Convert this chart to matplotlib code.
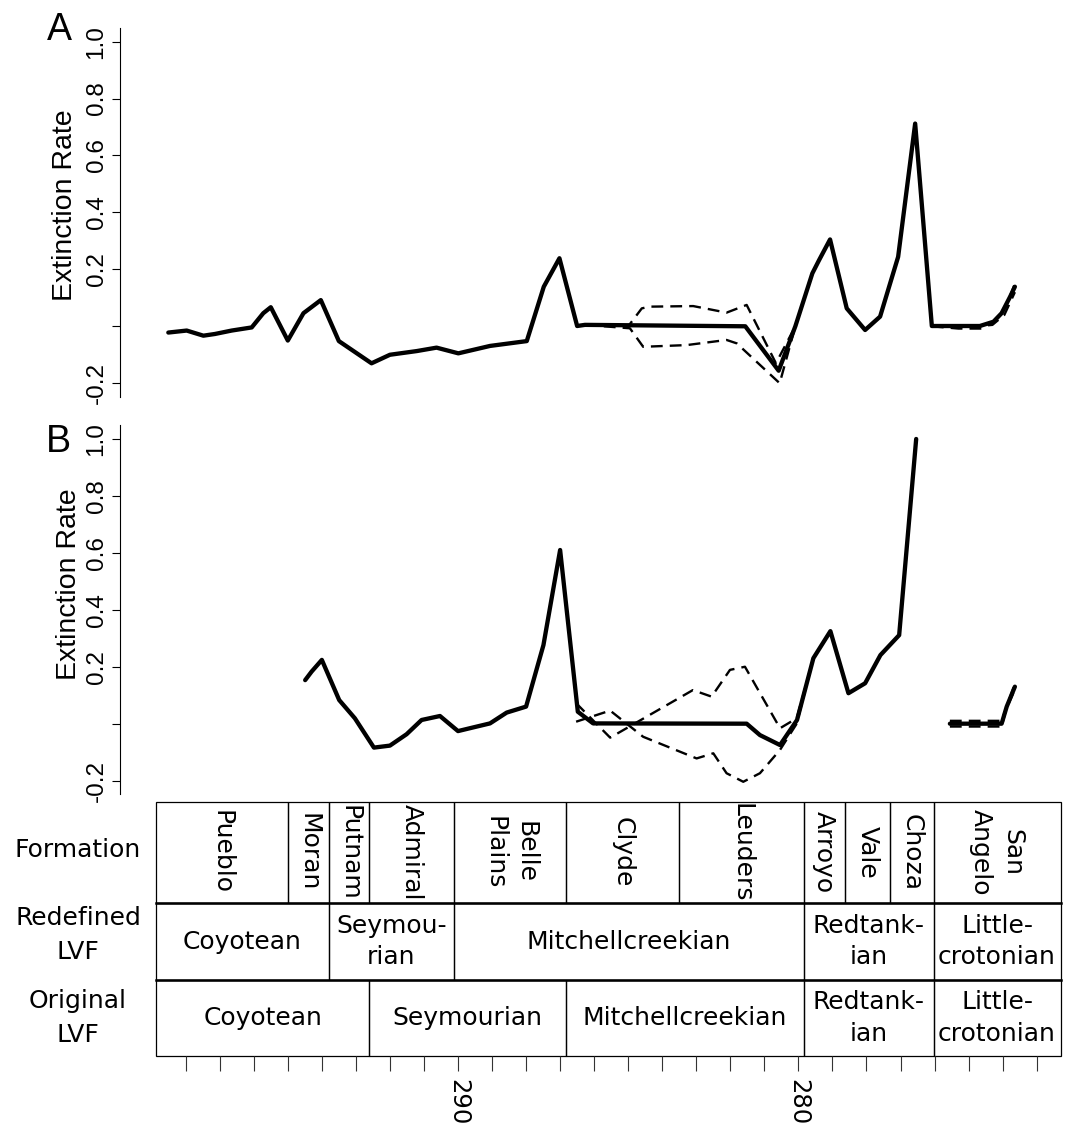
import numpy as np
import matplotlib
matplotlib.use("Agg")
import matplotlib.pyplot as plt
from matplotlib.patches import Rectangle

# ---------------- data ----------------
nan = np.nan
# Panel A: extinction rate (solid) and two alternative estimates (dashed)
ages_a = [298.51, 297.97, 297.48, 297.14, 296.65, 296.06, 295.72, 295.50, 295.00, 294.54,
          294.03, 293.50, 292.54, 292.00, 291.21, 290.63, 289.99, 289.06, 287.98, 287.48,
          287.02, 286.50, 286.27, 281.56, 280.58, 280.09, 279.59, 279.39, 279.07, 278.58,
          278.04, 277.60, 277.07, 276.57, 276.08, 274.67, 274.27, 274.03, 273.78, 273.64]
rate_a = [-0.022, -0.015, -0.033, -0.027, -0.015, -0.004, 0.046, 0.067, -0.050, 0.046,
          0.092, -0.052, -0.130, -0.100, -0.087, -0.075, -0.095, -0.069, -0.052, 0.139,
          0.239, 0.001, 0.005, 0.000, -0.156, 0.000, 0.186, 0.233, 0.305, 0.063,
          -0.013, 0.034, 0.244, 0.712, 0.001, 0.001, 0.016, 0.046, 0.104, 0.139]
ages_a_alt1 = [286.27, 285.00, 284.60, 284.36, 283.09, 282.11, 281.52, 280.66, 280.09, nan,
               276.08, 275.30, 274.60, 274.20, 273.90, 273.64]
rate_a_alt1 = [0.005, 0.000, 0.063, 0.069, 0.071, 0.048, 0.075, -0.130, 0.000, nan,
               0.000, -0.008, -0.008, 0.020, 0.070, 0.150]
ages_a_alt2 = [286.27, 284.95, 284.56, 283.28, 282.11, 281.81, 280.55, 280.09, nan,
               276.08, 275.00, 274.30, 273.95, 273.64]
rate_a_alt2 = [0.005, -0.007, -0.072, -0.066, -0.048, -0.060, -0.200, 0.000, nan,
               0.000, -0.003, 0.005, 0.040, 0.120]

# Panel B
ages_b = [294.49, 294.30, 294.00, 293.49, 293.03, 292.47, 292.00, 291.51, 291.07, 290.53,
          290.00, 289.55, 289.06, 288.57, 288.00, 287.49, 287.00, 286.48, 286.03, 281.52,
          281.13, 280.54, 280.04, 279.56, 279.06, 278.53, 278.04, 277.59, 277.04, 276.54,
          nan, 275.55, 274.03, 273.88, 273.64]
rate_b = [0.153, 0.183, 0.224, 0.083, 0.019, -0.084, -0.077, -0.037, 0.013, 0.027,
          -0.026, -0.013, 0.001, 0.039, 0.060, 0.276, 0.610, 0.042, 0.001, 0.000,
          -0.040, -0.075, 0.013, 0.230, 0.325, 0.107, 0.142, 0.241, 0.311, 1.000,
          nan, 0.000, 0.000, 0.060, 0.130]
ages_b_alt1 = [286.53, 285.53, 283.10, 282.55, 282.01, 281.57, 280.54, 280.05, 279.56, nan,
               275.55, 274.03, 273.64]
rate_b_alt1 = [0.072, -0.049, 0.118, 0.095, 0.189, 0.200, -0.016, 0.019, 0.230, nan,
               0.010, 0.010, 0.140]
ages_b_alt2 = [286.53, 285.53, 284.56, 282.99, 282.50, 282.11, 281.62, 281.13, 280.54,
               280.05, 279.56, nan, 275.55, 274.03, 273.90, 273.64]
rate_b_alt2 = [0.007, 0.046, -0.046, -0.122, -0.104, -0.174, -0.204, -0.174, -0.092,
               0.000, 0.230, nan, -0.010, -0.010, 0.050, 0.120]

# Stratigraphic table (boundaries in Ma)
formation_bounds = [298.88, 295.0, 293.79, 292.6, 290.12, 286.82, 283.51, 279.84, 278.64,
                    277.31, 276.03, 272.3]
formation_names = ["Pueblo", "Moran", "Putnam", "Admiral", "Belle\nPlains", "Clyde",
                   "Leuders", "Arroyo", "Vale", "Choza", "San\nAngelo"]
redefined_bounds = [298.88, 293.79, 290.12, 279.84, 276.03, 272.3]
redefined_names = ["Coyotean", "Seymou-\nrian", "Mitchellcreekian", "Redtank-\nian",
                   "Little-\ncrotonian"]
original_bounds = [298.88, 292.6, 286.82, 279.84, 276.03, 272.3]
original_names = ["Coyotean", "Seymourian", "Mitchellcreekian", "Redtank-\nian",
                  "Little-\ncrotonian"]
row_labels = ["Formation", "Redefined\nLVF", "Original\nLVF"]

y_ticks = [-0.2, 0.0, 0.2, 0.4, 0.6, 0.8, 1.0]
y_ticklabels = ["-0.2", "", "0.2", "0.4", "0.6", "0.8", "1.0"]
x_ticks = list(range(273, 299))
x_labelled = {290: "290", 280: "280"}

# ---------------- layout ----------------
W, H = 1070, 1126
fig = plt.figure(figsize=(W / 100, H / 100), dpi=100)

PX_290, PX_PER_MYR = 458.0, 34.04
def px2age(px):
    return 290 - (px - PX_290) / PX_PER_MYR

X_L, X_R = 120, 1062
XLIM = (px2age(X_L), px2age(X_R))

def add_axes_px(x0, y0, x1, y1):
    return fig.add_axes([x0 / W, 1 - y1 / H, (x1 - x0) / W, (y1 - y0) / H])

def ftext(xpx, ypx, s, **kw):
    fig.text(xpx / W, 1 - ypx / H, s, **kw)

ARIAL = "Liberation Sans"
VERD = "DejaVu Sans"

def style_panel(ax):
    ax.set_xlim(*XLIM)
    ax.set_ylim(-0.248, 1.048)
    for s in ["top", "right", "bottom"]:
        ax.spines[s].set_visible(False)
    ax.spines["left"].set_linewidth(0.8)
    ax.set_xticks([])
    ax.set_yticks(y_ticks)
    ax.set_yticklabels(y_ticklabels, rotation=90, va="center", fontsize=17.5, family=ARIAL)
    ax.tick_params(axis="y", length=6, width=0.8, pad=3)
    ax.patch.set_visible(False)

solid_kw = dict(color="black", lw=3.1, solid_joinstyle="round", solid_capstyle="round")
dash_kw = dict(color="black", lw=1.7, linestyle=(0, (5, 3)))

axA = add_axes_px(X_L, 27.9, X_R, 396.9)
style_panel(axA)
axA.plot(ages_a, rate_a, **solid_kw)
axA.plot(ages_a_alt1, rate_a_alt1, **dash_kw)
axA.plot(ages_a_alt2, rate_a_alt2, **dash_kw)

axB = add_axes_px(X_L, 425.3, X_R, 794.3)
style_panel(axB)
axB.plot(ages_b, rate_b, **solid_kw)
axB.plot(ages_b_alt1, rate_b_alt1, **dash_kw)
axB.plot(ages_b_alt2, rate_b_alt2, **dash_kw)

# panel letters and y labels
ftext(59, 40, "A", fontsize=27, family=ARIAL, ha="center", va="baseline")
ftext(58, 452, "B", fontsize=27, family=ARIAL, ha="center", va="baseline")
ftext(72.3, 205, "Extinction Rate", fontsize=20.5, family=ARIAL, rotation=90,
      rotation_mode="anchor", ha="center", va="baseline")
ftext(75.8, 584, "Extinction Rate", fontsize=20.5, family=ARIAL, rotation=90,
      rotation_mode="anchor", ha="center", va="baseline")

# ---------------- table ----------------
T_TOP, T_BOT = 801.7, 1056.0
rows_y = [(801.7, 903.3), (903.3, 980.0), (980.0, 1056.0)]
axT = add_axes_px(X_L, T_TOP, X_R, T_BOT)
axT.set_xlim(*XLIM)
axT.set_ylim(T_BOT, T_TOP)
for s in axT.spines.values():
    s.set_visible(False)
axT.patch.set_visible(False)
axT.set_yticks([])
axT.set_xticks(x_ticks)
axT.set_xticklabels([x_labelled.get(t, "") for t in x_ticks], rotation=270,
                    fontsize=17.5, family=VERD)
axT.tick_params(axis="x", length=11, width=0.8, pad=5.5, color="#333333")

TFS = 18
rows = [(formation_bounds, formation_names, 270),
        (redefined_bounds, redefined_names, 0),
        (original_bounds, original_names, 0)]
for (y0, y1), (bounds, names, rot) in zip(rows_y, rows):
    for a0, a1, name in zip(bounds[:-1], bounds[1:], names):
        axT.add_patch(Rectangle((min(a0, a1), y0), abs(a1 - a0), y1 - y0,
                                fill=False, ec="black", lw=0.9, clip_on=False))
        axT.text((a0 + a1) / 2, (y0 + y1) / 2, name, rotation=rot, ha="center",
                 va="center", multialignment="center", fontsize=TFS, family=VERD,
                 linespacing=1.4, clip_on=False)
# slightly heavier row separators
for yb in [903.3, 980.0]:
    axT.plot([formation_bounds[0], formation_bounds[-1]], [yb, yb], color="black",
             lw=1.8, clip_on=False)

row_label_y = [850, 935, 1018]
for lab, yy in zip(row_labels, row_label_y):
    ftext(78, yy, lab, fontsize=TFS, family=VERD, ha="center", va="center",
          multialignment="center", linespacing=1.5)

fig.savefig("out.png", dpi=100)
